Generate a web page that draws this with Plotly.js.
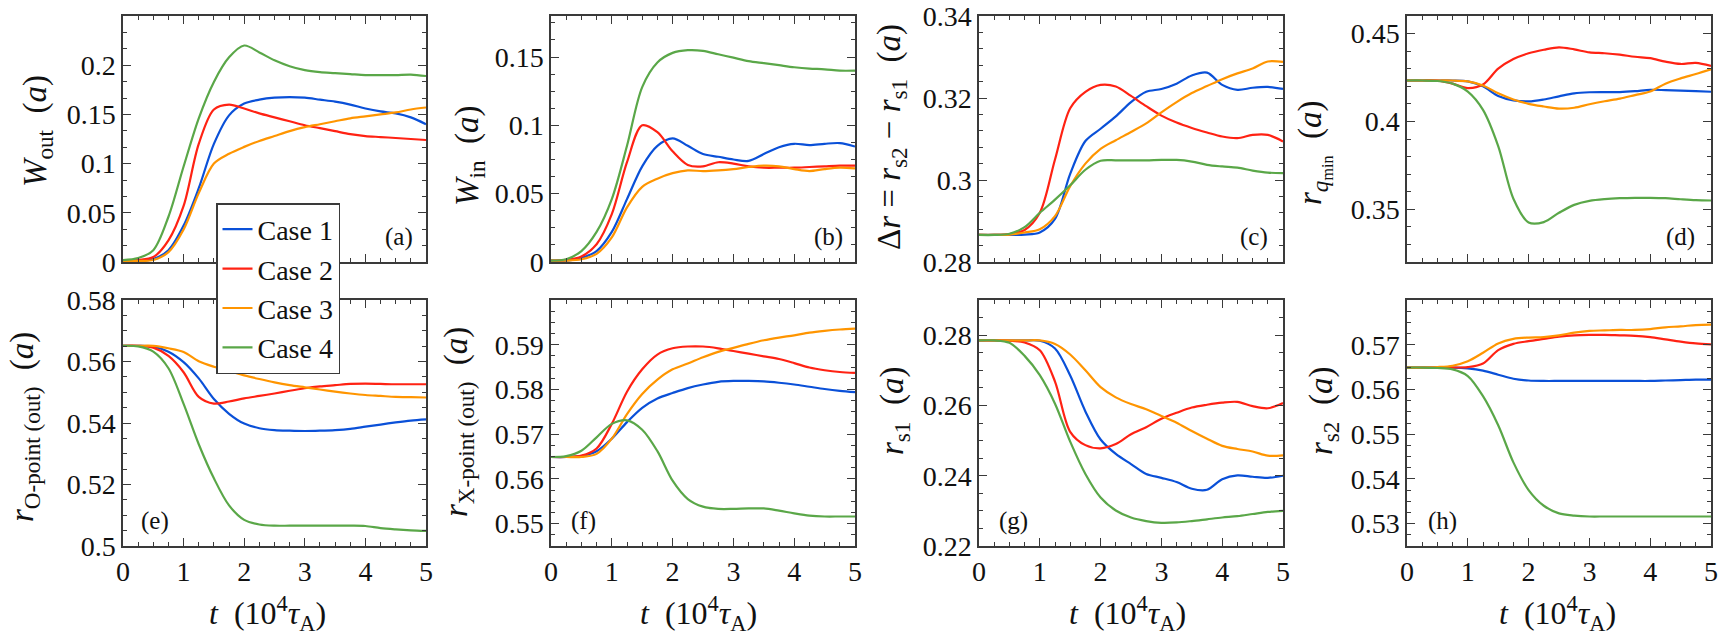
<!DOCTYPE html>
<html>
<head>
<meta charset="utf-8">
<script src="https://cdn.plot.ly/plotly-3.0.1.min.js"></script>
<style>
#chart text { font-family: "Liberation Serif" !important; }
</style>
</head>
<body style="margin:0;background:#fff;font-family:'Liberation Serif'">
<div id="chart" style="width:1721px;height:638px"></div>
<script>
// time axis (10^4 tau_A)
const t = [0,0.25,0.5,0.75,1,1.25,1.5,1.75,2,2.25,2.5,2.75,3,3.25,3.5,3.75,4,4.25,4.5,4.75,5];
const caseNames = ["Case 1","Case 2","Case 3","Case 4"];
const caseColors = ["#0a50d8","#ff2213","#ff9500","#5aa748"];

// (a) W_out
const wOut1 = [0.001,0.001,0.003,0.012,0.037,0.075,0.12,0.149,0.161,0.165,0.167,0.1675,0.167,0.165,0.163,0.16,0.156,0.153,0.151,0.147,0.14];
const wOut2 = [0.001,0.002,0.005,0.022,0.057,0.12,0.155,0.16,0.156,0.151,0.147,0.143,0.139,0.136,0.133,0.13,0.128,0.127,0.126,0.125,0.124];
const wOut3 = [0.001,0.001,0.002,0.01,0.033,0.07,0.1,0.11,0.117,0.123,0.128,0.133,0.137,0.14,0.143,0.146,0.148,0.15,0.152,0.155,0.157];
const wOut4 = [0.002,0.004,0.012,0.046,0.097,0.146,0.183,0.208,0.22,0.213,0.205,0.199,0.195,0.193,0.192,0.191,0.19,0.19,0.19,0.1905,0.189];
// (b) W_in
const wIn1 = [0.001,0.001,0.003,0.008,0.022,0.046,0.07,0.085,0.0905,0.085,0.079,0.077,0.075,0.074,0.079,0.084,0.0865,0.0855,0.0865,0.087,0.0845];
const wIn2 = [0.001,0.0015,0.004,0.013,0.035,0.073,0.1,0.095,0.081,0.071,0.07,0.073,0.072,0.07,0.069,0.069,0.069,0.0695,0.07,0.0705,0.0705];
const wIn3 = [0.001,0.001,0.002,0.006,0.018,0.04,0.055,0.061,0.065,0.067,0.0665,0.067,0.068,0.0695,0.0705,0.07,0.068,0.0665,0.068,0.069,0.0685];
const wIn4 = [0.001,0.002,0.008,0.022,0.046,0.085,0.128,0.146,0.153,0.155,0.1545,0.152,0.1495,0.147,0.1455,0.144,0.1425,0.1415,0.141,0.14,0.14];
// (c) Delta r
const dr1 = [0.2866,0.2866,0.2866,0.2867,0.2872,0.2905,0.3015,0.3095,0.3125,0.3155,0.319,0.3215,0.3222,0.3235,0.3255,0.3262,0.3232,0.322,0.3225,0.3227,0.3222];
const dr2 = [0.2866,0.2866,0.2868,0.2878,0.292,0.305,0.3175,0.3215,0.3232,0.3228,0.3205,0.318,0.3157,0.314,0.3127,0.3116,0.3106,0.3102,0.311,0.311,0.3094];
const dr3 = [0.2866,0.2866,0.2867,0.2872,0.288,0.2912,0.2985,0.304,0.3076,0.3097,0.3117,0.3138,0.3165,0.319,0.3212,0.3229,0.3246,0.326,0.3272,0.3289,0.3288];
const dr4 = [0.2866,0.2866,0.2869,0.2885,0.292,0.2952,0.2987,0.3025,0.3047,0.3048,0.3048,0.3048,0.3049,0.3049,0.3045,0.3037,0.3033,0.303,0.3023,0.3018,0.3017];
// (d) r_qmin
const rq1 = [0.4233,0.4233,0.4233,0.4233,0.4228,0.42,0.4145,0.412,0.4114,0.4125,0.4143,0.416,0.4166,0.4167,0.4167,0.4172,0.418,0.4178,0.4175,0.4172,0.4169];
const rq2 = [0.4233,0.4233,0.4232,0.4215,0.419,0.421,0.43,0.4355,0.4388,0.4408,0.4422,0.441,0.4393,0.4388,0.438,0.4368,0.436,0.434,0.4327,0.4333,0.4316];
const rq3 = [0.4233,0.4233,0.4233,0.4233,0.4228,0.4205,0.416,0.4125,0.41,0.4085,0.4073,0.4078,0.4098,0.4115,0.413,0.415,0.417,0.4215,0.4245,0.427,0.4297];
const rq4 = [0.4233,0.4233,0.423,0.4215,0.417,0.4066,0.386,0.356,0.3425,0.3427,0.348,0.3525,0.3548,0.3558,0.3563,0.3565,0.3565,0.3563,0.3557,0.3552,0.355];
// (e) r_O-point(out)
const rO1 = [0.5651,0.5651,0.5648,0.5632,0.5598,0.5545,0.5478,0.543,0.5398,0.5383,0.5377,0.5375,0.5374,0.5375,0.5377,0.5381,0.5388,0.5395,0.5402,0.5408,0.5412];
const rO2 = [0.5651,0.5651,0.5645,0.5618,0.5565,0.5485,0.5463,0.547,0.548,0.5488,0.5496,0.5505,0.5513,0.5519,0.5523,0.5527,0.5528,0.5527,0.5526,0.5526,0.5526];
const rO3 = [0.5651,0.5651,0.5651,0.5643,0.5631,0.5601,0.5583,0.5569,0.5555,0.5543,0.5532,0.5523,0.5516,0.5509,0.5502,0.5496,0.5491,0.5488,0.5485,0.5484,0.5483];
const rO4 = [0.5651,0.5649,0.5632,0.5578,0.5462,0.5331,0.522,0.5132,0.5085,0.507,0.5066,0.5066,0.5066,0.5066,0.5066,0.5066,0.5065,0.5058,0.5054,0.5051,0.5049];
// (f) r_X-point(out)
const rX1 = [0.5649,0.5649,0.5651,0.5662,0.569,0.5727,0.5759,0.578,0.5792,0.5803,0.5811,0.5817,0.5819,0.5819,0.5818,0.5815,0.5811,0.5806,0.5801,0.5797,0.5794];
const rX2 = [0.5649,0.5649,0.5652,0.5668,0.5723,0.5795,0.5845,0.5878,0.5892,0.5896,0.5896,0.5892,0.5886,0.588,0.5874,0.5868,0.5859,0.5849,0.5843,0.5839,0.5837];
const rX3 = [0.5649,0.5649,0.5649,0.5656,0.569,0.5745,0.579,0.5822,0.5845,0.5858,0.5872,0.5884,0.5893,0.5902,0.591,0.5916,0.5921,0.5927,0.5931,0.5934,0.5936];
const rX4 = [0.5649,0.5651,0.5663,0.5693,0.5723,0.5731,0.571,0.5662,0.5596,0.5555,0.5538,0.5533,0.5533,0.5534,0.5534,0.5529,0.5523,0.5518,0.5516,0.5516,0.5516];
// (g) r_s1
const rs1_1 = [0.2785,0.2785,0.2785,0.2785,0.2784,0.2762,0.2685,0.2583,0.2503,0.2462,0.2433,0.2405,0.2394,0.2382,0.2363,0.236,0.239,0.2401,0.2397,0.2394,0.24];
const rs1_2 = [0.2785,0.2785,0.2784,0.2779,0.2757,0.2668,0.2525,0.2487,0.2478,0.249,0.2518,0.2538,0.2562,0.2579,0.2594,0.2602,0.2608,0.261,0.2598,0.2592,0.2607];
const rs1_3 = [0.2785,0.2785,0.2785,0.2785,0.2785,0.2775,0.2745,0.27,0.2652,0.2623,0.2604,0.2589,0.257,0.2551,0.2527,0.2505,0.2485,0.2476,0.2469,0.2457,0.2458];
const rs1_4 = [0.2785,0.2785,0.2778,0.2741,0.2686,0.2605,0.2497,0.2405,0.2338,0.2301,0.2281,0.2271,0.2266,0.2267,0.2271,0.2276,0.2281,0.2285,0.2291,0.2297,0.23];
// (h) r_s2
const rs2_1 = [0.5649,0.5649,0.5649,0.5649,0.5647,0.5642,0.5633,0.5624,0.562,0.5619,0.5619,0.5619,0.5619,0.5619,0.5619,0.5619,0.5619,0.562,0.5621,0.5622,0.5622];
const rs2_2 = [0.5649,0.5649,0.5649,0.5649,0.565,0.5658,0.5688,0.5702,0.5708,0.5713,0.5718,0.5721,0.5722,0.5722,0.5721,0.572,0.5717,0.5712,0.5707,0.5703,0.5701];
const rs2_3 = [0.5649,0.5649,0.565,0.5653,0.5663,0.5682,0.5703,0.5713,0.5716,0.5717,0.5721,0.5727,0.5731,0.5732,0.5733,0.5733,0.5735,0.5739,0.5741,0.5744,0.5745];
const rs2_4 = [0.5649,0.5649,0.5648,0.5645,0.563,0.5585,0.552,0.5437,0.5375,0.534,0.5323,0.5318,0.5316,0.5316,0.5316,0.5316,0.5316,0.5316,0.5316,0.5316,0.5316];

// tick values
const xTicks = [0,1,2,3,4,5];
const yTicksA = [0,0.05,0.1,0.15,0.2];
const yTicksB = [0,0.05,0.1,0.15];
const yTicksC = [0.28,0.3,0.32,0.34];
const yTicksD = [0.35,0.4,0.45];
const yTicksE = [0.5,0.52,0.54,0.56,0.58];
const yTicksF = [0.55,0.56,0.57,0.58,0.59];
const yTicksG = [0.22,0.24,0.26,0.28];
const yTicksH = [0.53,0.54,0.55,0.56,0.57];

const panelSeries = [
  [wOut1,wOut2,wOut3,wOut4],
  [wIn1,wIn2,wIn3,wIn4],
  [dr1,dr2,dr3,dr4],
  [rq1,rq2,rq3,rq4],
  [rO1,rO2,rO3,rO4],
  [rX1,rX2,rX3,rX4],
  [rs1_1,rs1_2,rs1_3,rs1_4],
  [rs2_1,rs2_2,rs2_3,rs2_4]
];
const yRanges = [[0,0.25],[0,0.18],[0.28,0.34],[0.32,0.46],[0.5,0.58],[0.545,0.6],[0.22,0.29],[0.525,0.58]];
const yTickSets = [yTicksA,yTicksB,yTicksC,yTicksD,yTicksE,yTicksF,yTicksG,yTicksH];
const yMinor = [0.05/3,0.0125,0.004,0.01,0.005,0.0025,0.005,0.0025];
const yTitles = [
  "<i>W</i><sub>out</sub>  (<i>a</i>)",
  "<i>W</i><sub>in</sub>  (<i>a</i>)",
  "\u0394<i>r</i> = <i>r</i><sub>s2</sub> \u2212 <i>r</i><sub>s1</sub>  (<i>a</i>)",
  "<i>r</i><sub><i>q</i><sub>min</sub></sub>  (<i>a</i>)",
  "<i>r</i><sub>O-point (out)</sub>  (<i>a</i>)",
  "<i>r</i><sub>X-point (out)</sub>  (<i>a</i>)",
  "<i>r</i><sub>s1</sub>  (<i>a</i>)",
  "<i>r</i><sub>s2</sub>  (<i>a</i>)"
];
const panelLabels = ["(a)","(b)","(c)","(d)","(e)","(f)","(g)","(h)"];
const xTitle = "<i>t</i>  (10<sup>4</sup><i>\u03c4</i><sub>A</sub>)";

const W = 1721, H = 638;
const FONT = "Liberation Serif";
const FRAME = "#3a3a3a";
// layout geometry in pixels
const colX = [[123,426],[551,855],[979,1283],[1407,1711]];
const rowY = [[16,262],[300,546]];
const yTitlePos = [[37,131],[470,156],[892,137],[1314,153],[24,427],[458,422],[894,411],[1323,411]];
const labelPos = [[399,237],[828,237],[1254,237],[1680,237],[155,521],[583,521],[1013,521],[1442,521]];
const xTitlePos = [[267,613],[698,613],[1127,613],[1557,613]];

function draw() {
  const data = [];
  const layout = {
    width: W, height: H,
    margin: {l:0,r:0,t:0,b:0},
    paper_bgcolor: "#fff", plot_bgcolor: "#fff",
    font: {family: FONT, size: 28, color: "#111"},
    showlegend: true,
    legend: {
      x: 216/W, y: 1-203/H, xanchor: "left", yanchor: "top",
      bgcolor: "#fff", bordercolor: FRAME, borderwidth: 1.5,
      font: {family: FONT, size: 28, color: "#111"},
      tracegroupgap: 0, itemwidth: 30
    },
    annotations: []
  };
  for (let p = 0; p < 8; p++) {
    const col = p % 4, row = Math.floor(p / 4);
    const ax = p === 0 ? "" : String(p+1);
    for (let c = 0; c < 4; c++) {
      data.push({
        x: t, y: panelSeries[p][c], type: "scatter", mode: "lines",
        name: caseNames[c], legendgroup: caseNames[c], showlegend: p === 0,
        line: {color: caseColors[c], width: 2.2, shape: "spline", smoothing: 0.9},
        xaxis: "x" + ax, yaxis: "y" + ax, hoverinfo: "skip"
      });
    }
    const common = {
      showline: true, linecolor: FRAME, linewidth: 1.5, mirror: "allticks",
      ticks: "inside", ticklen: 8, tickwidth: 1.3, tickcolor: FRAME,
      showgrid: false, zeroline: false, fixedrange: true,
      tickfont: {family: FONT, size: 28, color: "#111"}
    };
    layout["xaxis" + ax] = Object.assign({}, common, {
      domain: [colX[col][0]/W, colX[col][1]/W],
      anchor: "y" + ax, range: [0,5],
      tickmode: "array", tickvals: xTicks, ticktext: xTicks.map(String),
      showticklabels: row === 1,
      minor: {tickmode: "linear", tick0: 0, dtick: 0.25, ticks: "inside", ticklen: 4, tickwidth: 1, tickcolor: FRAME, showgrid: false}
    });
    layout["yaxis" + ax] = Object.assign({}, common, {
      domain: [1 - rowY[row][1]/H, 1 - rowY[row][0]/H],
      anchor: "x" + ax, range: yRanges[p],
      tickmode: "array", tickvals: yTickSets[p], ticktext: yTickSets[p].map(v => String(v)),
      minor: {tickmode: "linear", tick0: 0, dtick: yMinor[p], ticks: "inside", ticklen: 4, tickwidth: 1, tickcolor: FRAME, showgrid: false}
    });
    layout.annotations.push({
      text: yTitles[p], textangle: -90, showarrow: false,
      xref: "paper", yref: "paper", x: yTitlePos[p][0]/W, y: 1 - yTitlePos[p][1]/H,
      xanchor: "center", yanchor: "middle",
      font: {family: FONT, size: 33, color: "#111"}
    });
    layout.annotations.push({
      text: panelLabels[p], showarrow: false,
      xref: "paper", yref: "paper", x: labelPos[p][0]/W, y: 1 - labelPos[p][1]/H,
      xanchor: "center", yanchor: "middle",
      font: {family: FONT, size: 25, color: "#111"}
    });
    if (row === 1) {
      layout.annotations.push({
        text: xTitle, showarrow: false,
        xref: "paper", yref: "paper", x: xTitlePos[col][0]/W, y: 1 - xTitlePos[col][1]/H,
        xanchor: "center", yanchor: "middle",
        font: {family: FONT, size: 32, color: "#111"}
      });
    }
  }
  Plotly.newPlot("chart", data, layout, {displayModeBar: false});
}

let drawn = false;
function go() { if (!drawn) { drawn = true; draw(); } }
if (document.fonts && document.fonts.load) {
  Promise.all([
    document.fonts.load('28px "Liberation Serif"'),
    document.fonts.load('italic 28px "Liberation Serif"')
  ]).then(go, go);
  setTimeout(go, 1500);
} else {
  go();
}
</script>
</body>
</html>
